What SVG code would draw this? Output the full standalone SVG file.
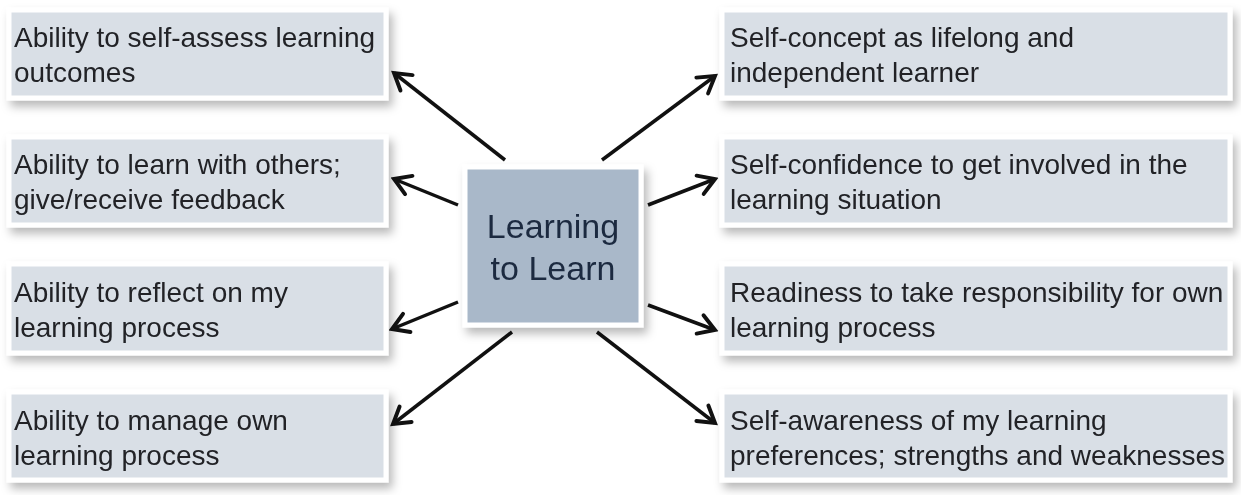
<svg xmlns="http://www.w3.org/2000/svg" width="1241" height="495" viewBox="0 0 1241 495">
<style>
.box{fill:#d9dfe6;stroke:#ffffff;stroke-width:5}
.ctr{fill:#a9b8c9;stroke:#ffffff;stroke-width:5}
.t{font-family:"Liberation Sans",Arial,sans-serif;font-size:28px;fill:#222428}
.ct{font-family:"Liberation Sans",Arial,sans-serif;font-size:34px;fill:#1c2a40;text-anchor:middle}
.c{stroke:#111;stroke-width:3.5;fill:none;marker-end:url(#ah)}
</style>
<defs>
<filter id="sh" x="-10%" y="-20%" width="125%" height="150%">
<feDropShadow dx="4" dy="6" stdDeviation="5" flood-color="#000" flood-opacity="0.28"/>
</filter>
<marker id="ah" viewBox="0 0 20 20" refX="17" refY="10" markerWidth="7" markerHeight="7" markerUnits="strokeWidth" orient="auto">
<path d="M4,2 L17,10 L4,18" fill="none" stroke="#111" stroke-width="3.2" stroke-linecap="round" stroke-linejoin="miter"/>
</marker>
</defs>
<rect width="1241" height="495" fill="#ffffff"/>
<g id="connectors">
<line class="c" x1="505" y1="160" x2="394" y2="73"/>
<line class="c" x1="458" y1="205" x2="394" y2="179"/>
<line class="c" x1="458" y1="302" x2="392" y2="329"/>
<line class="c" x1="512" y1="332" x2="393" y2="424"/>
<line class="c" x1="602" y1="160" x2="715" y2="76"/>
<line class="c" x1="648" y1="205" x2="715" y2="179"/>
<line class="c" x1="648" y1="305" x2="715" y2="330"/>
<line class="c" x1="597" y1="332" x2="715" y2="423"/>
</g>
<g id="center" filter="url(#sh)">
<rect class="ctr" x="465" y="167" width="176" height="158"/>
<text class="ct" x="553" y="238">Learning</text>
<text class="ct" x="553" y="280">to Learn</text>
</g>
<g id="l1" filter="url(#sh)">
<rect class="box" x="9" y="10" width="377" height="88"/>
<text class="t" x="14" y="47">Ability to self-assess learning</text>
<text class="t" x="14" y="82">outcomes</text>
</g>
<g id="l2" filter="url(#sh)">
<rect class="box" x="9" y="137" width="377" height="88"/>
<text class="t" x="14" y="174">Ability to learn with others;</text>
<text class="t" x="14" y="209">give/receive feedback</text>
</g>
<g id="l3" filter="url(#sh)">
<rect class="box" x="9" y="264" width="377" height="89"/>
<text class="t" x="14" y="302">Ability to reflect on my</text>
<text class="t" x="14" y="337">learning process</text>
</g>
<g id="l4" filter="url(#sh)">
<rect class="box" x="9" y="392" width="377" height="88"/>
<text class="t" x="14" y="430">Ability to manage own</text>
<text class="t" x="14" y="465">learning process</text>
</g>
<g id="r1" filter="url(#sh)">
<rect class="box" x="722" y="10" width="508" height="88"/>
<text class="t" x="730" y="47">Self-concept as lifelong and</text>
<text class="t" x="730" y="82">independent learner</text>
</g>
<g id="r2" filter="url(#sh)">
<rect class="box" x="722" y="137" width="508" height="88"/>
<text class="t" x="730" y="174">Self-confidence to get involved in the</text>
<text class="t" x="730" y="209">learning situation</text>
</g>
<g id="r3" filter="url(#sh)">
<rect class="box" x="722" y="264" width="508" height="89"/>
<text class="t" x="730" y="302">Readiness to take responsibility for own</text>
<text class="t" x="730" y="337">learning process</text>
</g>
<g id="r4" filter="url(#sh)">
<rect class="box" x="722" y="392" width="508" height="88"/>
<text class="t" x="730" y="430">Self-awareness of my learning</text>
<text class="t" x="730" y="465">preferences; strengths and weaknesses</text>
</g>
</svg>
